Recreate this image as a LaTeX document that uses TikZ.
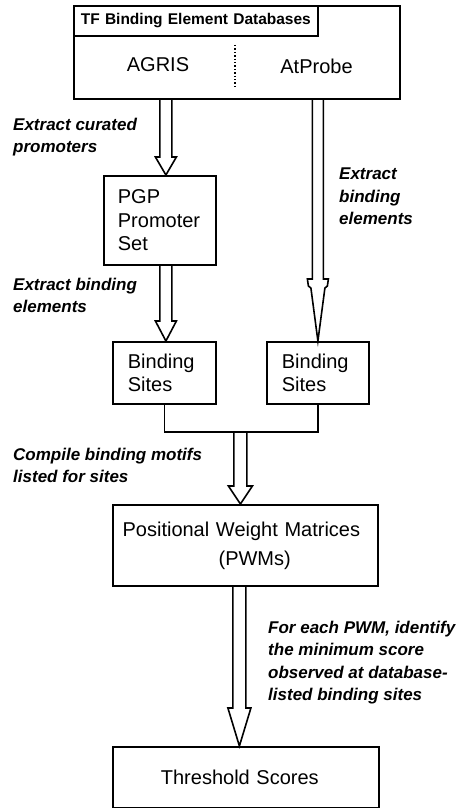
\documentclass[tikz,border=0pt]{standalone}
\usepackage{fontspec}
\setmainfont{Liberation Sans}
\usetikzlibrary{calc}
\tikzset{
  box/.style={draw, line width=1.8pt, rectangle, anchor=north west, inner ysep=0pt,
    font=\fontsize{20}{23.5}\selectfont},
  lbl/.style={anchor=north west, inner sep=0pt, align=left,
    font=\fontsize{17}{22.3}\selectfont\bfseries\itshape},
  harr/.style={draw, line width=1.6pt, line join=miter},
  conn/.style={draw, line width=1.6pt},
  divider/.style={draw, line width=1.4pt, dotted}
}
\newcommand\openarrow[5]{\draw[harr] let \p1=(#1), \p2=(#2) in
  (\x2-#3,\y1) -- (\x2-#3,\y2+#5) -- (\x2-#4,\y2+#5) -- (\x2,\y2) --
  (\x2+#4,\y2+#5) -- (\x2+#3,\y2+#5) -- (\x2+#3,\y1);}
\begin{document}
\begin{tikzpicture}[x=1pt,y=-1pt]
\useasboundingbox (0,0) rectangle (462,808);
% database box
\node[box, minimum width=326pt, minimum height=93pt] (db) at (73,5) {};
\node[box, minimum width=244pt, minimum height=30pt, inner xsep=7pt, text width=230pt, align=left,
  font=\fontsize{15.5}{18}\selectfont\bfseries] (hdr) at (73,5) {TF Binding Element Databases};
\node[font=\fontsize{20}{23.5}\selectfont] (agris) at (158,65) {AGRIS};
\node[font=\fontsize{20}{23.5}\selectfont] (atprobe) at (316.5,66) {AtProbe};
\coordinate (dvt) at (235,45);
\coordinate (dvb) at (235,87);
\draw[divider] (dvt) -- (dvb);
% boxes
\node[box, minimum width=112pt, minimum height=89pt, inner xsep=14pt, text width=84pt, align=left]
  (pgp) at (103,175) {PGP\\Promoter\\Set};
\node[box, minimum width=103pt, minimum height=62pt, inner xsep=15pt, text width=73pt, align=left]
  (bsl) at (112,341) {Binding\\Sites};
\node[box, minimum width=102pt, minimum height=62pt, inner xsep=15pt, text width=72pt, align=left]
  (bsr) at (266,341) {Binding\\Sites};
\node[box, minimum width=265pt, minimum height=81pt, inner xsep=9.7pt, text width=245.6pt, align=left]
  (pwm) at (112,504) {Positional Weight Matrices\\[5.5pt]\hspace*{96pt}(PWMs)};
\node[box, minimum width=266pt, minimum height=61pt, inner xsep=48pt, text width=170pt, align=left]
  (thr) at (112,746) {Threshold Scores};
% arrows
\openarrow{db.south}{$(pgp.north)+(6,0)$}{6pt}{10.5pt}{18pt}
\openarrow{pgp.south}{$(bsl.north)+(1.5,0)$}{6pt}{10.5pt}{20pt}
\draw[harr] let \p1=(db.south), \p2=(bsr.north) in
  (\x2-5.5pt,\y1) -- (\x2-5.5pt,\y2+62pt) -- (\x2-10.5pt,\y2+62pt) -- (\x2-9.5pt,\y2+55pt) --
  (\x2-7pt,\y2+53pt) -- (\x2,\y2) -- (\x2+7pt,\y2+53pt) -- (\x2+9.5pt,\y2+55pt) --
  (\x2+10.5pt,\y2+62pt) -- (\x2+5.5pt,\y2+62pt) -- (\x2+5.5pt,\y1);
\coordinate (join) at (239.5,432);
\draw[conn] (bsl.south) |- (join) -| (bsr.south);
\openarrow{join}{$(pwm.north)+(-5,0)$}{6.5pt}{12pt}{18pt}
\openarrow{pwm.south}{$(thr.north)+(-6.5,0)$}{6.5pt}{11.5pt}{38pt}
% labels
\node[lbl] (l1) at (13,118) {Extract curated\\promoters};
\node[lbl] (l2) at (13,278) {Extract binding\\elements};
\node[lbl] (r1) at (339,168) {Extract\\binding\\elements};
\node[lbl] (l3) at (13,448) {Compile binding motifs\\listed for sites};
\node[lbl] (r2) at (268,621) {For each PWM, identify\\the minimum score\\observed at database-\\listed binding sites};
\end{tikzpicture}
\end{document}
